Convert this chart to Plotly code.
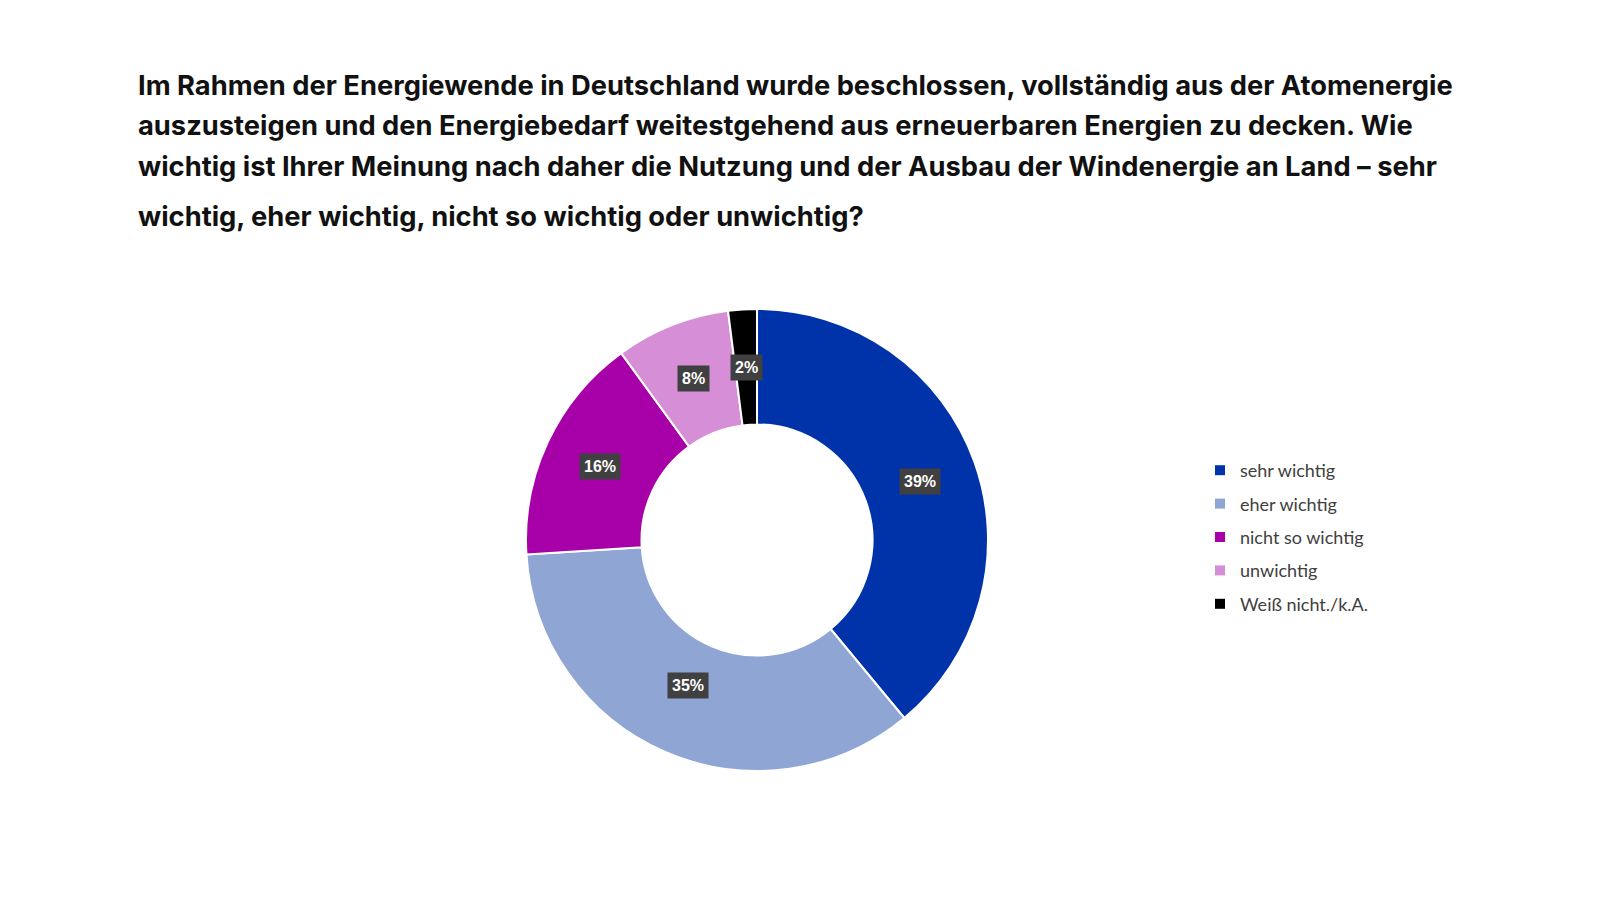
import numpy as np
import plotly.graph_objects as go

# Umfrage: Bedeutung der Windenergie an Land
categories = ["sehr wichtig", "eher wichtig", "nicht so wichtig", "unwichtig", "Weiß nicht./k.A."]
values = [39, 35, 16, 8, 2]
colors = ["#0033AA", "#8FA5D4", "#A800A8", "#D68FD6", "#000000"]

title_lines = [
    "Im Rahmen der Energiewende in Deutschland wurde beschlossen, vollständig aus der Atomenergie",
    "auszusteigen und den Energiebedarf weitestgehend aus erneuerbaren Energien zu decken. Wie",
    "wichtig ist Ihrer Meinung nach daher die Nutzung und der Ausbau der Windenergie an Land – sehr",
    "wichtig, eher wichtig, nicht so wichtig oder unwichtig?",
]

# Seite hat 8px Body-Rand -> Figur etwas kleiner, damit nichts überläuft
OFF = 8
W, H = 1600 - 2 * OFF, 900 - 2 * OFF


def px(x):
    return (x - OFF) / W


def py(y):
    return 1 - (y - OFF) / H


CX, CY, R = 757, 540, 231   # Mitte und Radius des Rings (Seitenpixel)
HOLE = 0.5

fig = go.Figure(go.Pie(
    labels=categories,
    values=values,
    marker=dict(colors=colors, line=dict(color="white", width=2)),
    hole=HOLE,
    sort=False,
    direction="clockwise",
    rotation=0,
    textinfo="none",
    hoverinfo="label+percent",
    showlegend=False,
    domain=dict(x=[px(CX - R), px(CX + R)], y=[py(CY + R), py(CY - R)]),
))

# Legende über leere Scatter-Traces, damit der Abstand passt
for cat, col in zip(categories, colors):
    fig.add_trace(go.Scatter(
        x=[None], y=[None],
        mode="markers",
        marker=dict(symbol="square", size=10, color=col),
        name=cat,
        legendgroup=cat,
        showlegend=True,
    ))

# Prozent-Labels in dunklen Kästchen, mittig im Ring
total = sum(values)
cum = np.cumsum([0] + values)
r_mid = R * (1 + HOLE) / 2
for i, v in enumerate(values):
    theta = np.deg2rad((cum[i] + v / 2) / total * 360)
    fig.add_annotation(
        x=px(CX + r_mid * np.sin(theta)),
        y=py(CY - r_mid * np.cos(theta)),
        xref="paper", yref="paper",
        text=f"<b>{v / total * 100:.0f}%</b>",
        showarrow=False,
        font=dict(family="Liberation Sans", size=16, color="white"),
        bgcolor="#404040",
        borderpad=4,
    )

# Titel zeilenweise (letzte Zeile mit größerem Abstand)
title_y = [85, 126, 166, 216]
for line, ty in zip(title_lines, title_y):
    fig.add_annotation(
        x=px(136), y=py(ty),
        xref="paper", yref="paper",
        xanchor="left", yanchor="middle",
        text=f"<b>{line}</b>",
        showarrow=False,
        font=dict(family="Inter", size=27.3, color="#111111"),
    )

fig.update_layout(
    width=W, height=H,
    margin=dict(l=0, r=0, t=0, b=0),
    paper_bgcolor="white",
    plot_bgcolor="white",
    xaxis=dict(visible=False),
    yaxis=dict(visible=False),
    legend=dict(
        x=px(1200), y=py(452),
        xanchor="left", yanchor="top",
        font=dict(family="Lato", size=18, color="#404040"),
        tracegroupgap=7,
        itemwidth=30,
    ),
)

fig.write_html("out.html")
